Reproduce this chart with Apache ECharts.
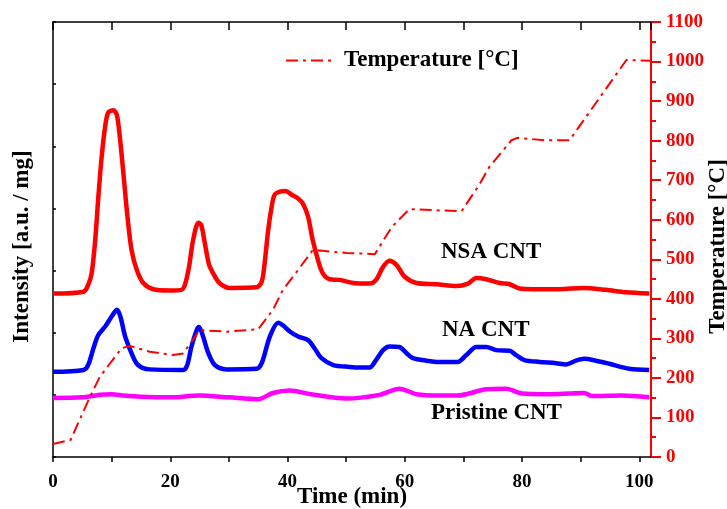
<!DOCTYPE html>
<html>
<head>
<meta charset="utf-8">
<script src="https://cdn.jsdelivr.net/npm/echarts@6/dist/echarts.min.js"></script>
<style>
html,body{margin:0;padding:0;background:#fff;}
#chart{width:727px;height:509px;}
</style>
</head>
<body>
<div id="chart"></div>
<script>
// Time (min) / intensity (a.u./mg, left axis units) pairs
var nsaCNT = [[0,2.63],[5.2,2.66],[6.0,2.77],[6.6,2.96],[7.2,3.49],[7.7,4.14],[8.3,4.83],[8.9,5.32],[9.4,5.54],[10.3,5.58],[10.9,5.50],[11.4,5.15],[12.0,4.57],[12.7,3.87],[13.4,3.33],[14.3,3.01],[15.4,2.80],[17.1,2.70],[19.9,2.68],[21.9,2.69],[22.5,2.77],[23.2,3.06],[23.9,3.49],[24.8,3.77],[25.3,3.73],[25.9,3.44],[26.6,3.10],[27.3,2.96],[28.4,2.80],[30.2,2.72],[34.7,2.73],[35.6,2.82],[36.1,3.12],[36.7,3.65],[37.3,4.03],[37.8,4.22],[38.7,4.27],[39.7,4.28],[40.7,4.22],[41.8,4.16],[42.6,4.08],[43.5,3.87],[44.3,3.49],[45.2,3.17],[46.0,2.96],[47.2,2.86],[48.9,2.85],[51.2,2.80],[54.0,2.79],[55.1,2.85],[56.3,3.06],[57.4,3.16],[58.6,3.09],[60.0,2.90],[62.0,2.80],[65.4,2.78],[68.8,2.75],[70.8,2.79],[72.2,2.88],[73.9,2.86],[76.2,2.80],[77.9,2.78],[79.6,2.71],[81.8,2.70],[86.4,2.70],[90.3,2.72],[94.3,2.69],[97.7,2.65],[101.7,2.63]];
var naCNT = [[0,1.37],[5.2,1.40],[6.0,1.48],[6.9,1.75],[7.7,1.96],[8.9,2.10],[10.0,2.26],[10.9,2.37],[11.5,2.26],[12.3,1.94],[13.4,1.67],[14.5,1.48],[16.5,1.41],[22.2,1.40],[22.9,1.48],[23.6,1.77],[24.5,2.04],[24.9,2.09],[25.6,1.94],[26.5,1.67],[27.6,1.48],[29.6,1.41],[34.7,1.42],[35.6,1.51],[37.0,1.94],[38.4,2.16],[39.2,2.12],[40.4,2.02],[41.8,1.94],[43.5,1.88],[44.6,1.75],[45.8,1.59],[47.8,1.48],[50.6,1.45],[52.3,1.44],[54.0,1.44],[55.1,1.56],[56.3,1.72],[57.4,1.78],[59.1,1.77],[60.3,1.67],[61.4,1.59],[63.7,1.55],[65.9,1.53],[69.0,1.53],[70.5,1.64],[72.2,1.77],[73.9,1.77],[75.6,1.72],[77.9,1.71],[79.0,1.64],[80.4,1.56],[83.0,1.53],[85.8,1.51],[87.5,1.49],[89.2,1.55],[90.6,1.58],[92.6,1.55],[94.9,1.50],[98.3,1.42],[101.7,1.40]];
var pristineCNT = [[0,0.95],[5,0.96],[8,1.00],[10,1.01],[12,0.99],[15,0.97],[20,0.96],[25,0.99],[30,0.96],[35,0.93],[37.5,1.03],[40.4,1.07],[44,1.01],[50,0.94],[55.7,1.00],[59.1,1.10],[62,1.01],[66,0.99],[69,0.99],[73.9,1.09],[77.3,1.10],[80,1.02],[84,1.01],[88,1.02],[90.6,1.03],[92,0.98],[97,0.99],[101.7,0.96]];
// Time (min) / temperature (°C)
var temperature = [[0,33],[3,43],[6.3,152],[8,203],[11.7,275],[13.1,281],[16.5,266],[20.5,258],[22.2,262],[25,321],[29.6,317],[35,323],[37.5,372],[39.2,422],[41.8,473],[44.3,523],[45.5,522],[50,516],[54.9,513],[57.8,582],[60.8,627],[65,624],[69.7,622],[72.7,688],[74.4,733],[78.2,801],[79.2,807],[84,801],[88.1,801],[97.8,1004],[102,1002]];
var seriesNames = ['NSA CNT','NA CNT','Pristine CNT','Temperature [°C]'];

var FONT = 'Liberation Serif';
var chart = echarts.init(document.getElementById('chart'));
var option = {
  backgroundColor: '#fff',
  animation: false,
  textStyle: {fontFamily: FONT},
  grid: {left: 53, right: 76, top: 22, bottom: 52, containLabel: false, outerBoundsMode: 'none'},
  legend: {
    data: [seriesNames[3]],
    left: 280, top: 44,
    itemWidth: 48, itemHeight: 14,
    itemStyle: {opacity: 0},
    textStyle: {fontFamily: FONT, fontWeight: 'bold', fontSize: 23, color: '#000', padding: [0,0,0,5]}
  },
  xAxis: [{
    type: 'value', min: 0, max: 102, interval: 10, position: 'bottom',
    name: 'Time (min)', nameLocation: 'middle', nameGap: 29, nameMoveOverlap: false,
    nameTextStyle: {fontFamily: FONT, fontWeight: 'bold', fontSize: 23, color: '#000'},
    axisLine: {onZero: false, lineStyle: {color: '#000', width: 1.5}},
    axisTick: {inside: false, length: 5, lineStyle: {color: '#000', width: 1.5}},
    axisLabel: {margin: 16, fontFamily: FONT, fontWeight: 'bold', fontSize: 19, color: '#000',
      showMaxLabel: false,
      formatter: function (v) { return v % 20 === 0 ? String(v) : ''; }},
    splitLine: {show: false}
  }, {
    type: 'value', min: 0, max: 102, interval: 10, position: 'top',
    axisLine: {onZero: false, lineStyle: {color: '#000', width: 1.5}},
    axisTick: {inside: true, length: 8, lineStyle: {color: '#000', width: 1.5}},
    axisLabel: {show: false}, splitLine: {show: false}
  }],
  yAxis: [{
    type: 'value', min: 0, max: 7, interval: 1, position: 'left',
    name: 'Intensity [a.u. / mg]', nameLocation: 'middle', nameGap: 19, nameMoveOverlap: false,
    nameTextStyle: {fontFamily: FONT, fontWeight: 'bold', fontSize: 23, color: '#000', padding: [0, 14, 0, 0]},
    axisLine: {show: true, onZero: false, lineStyle: {color: '#000', width: 1.5}},
    axisTick: {show: true, inside: true, length: 3, lineStyle: {color: '#000', width: 1.5}},
    axisLabel: {show: false}, splitLine: {show: false}
  }, {
    type: 'value', min: 0, max: 1100, interval: 100, position: 'right',
    name: 'Temperature [°C]', nameLocation: 'middle', nameGap: 56, nameRotate: 90, nameMoveOverlap: false,
    nameTextStyle: {fontFamily: FONT, fontWeight: 'bold', fontSize: 23, color: '#000', padding: [0, 14, 0, 0]},
    axisLine: {show: true, onZero: false, lineStyle: {color: '#ff0000', width: 2}},
    axisTick: {show: true, inside: false, length: 10, lineStyle: {color: '#ff0000', width: 2}},
    minorTick: {show: true, splitNumber: 2, length: 5, lineStyle: {color: '#ff0000', width: 2}},
    axisLabel: {margin: 15, fontFamily: FONT, fontWeight: 'bold', fontSize: 19, color: '#ff0000',
      formatter: function (v) { return String(v); }},
    splitLine: {show: false}
  }],
  series: [{
    name: seriesNames[0], type: 'line', data: nsaCNT, xAxisIndex: 0, yAxisIndex: 0,
    showSymbol: false, symbol: 'none', smooth: 0.3,
    lineStyle: {color: '#ff0000', width: 4.5}, itemStyle: {color: '#ff0000'}
  }, {
    name: seriesNames[1], type: 'line', data: naCNT, xAxisIndex: 0, yAxisIndex: 0,
    showSymbol: false, symbol: 'none', smooth: 0.3,
    lineStyle: {color: '#0000ff', width: 4.5}, itemStyle: {color: '#0000ff'}
  }, {
    name: seriesNames[2], type: 'line', data: pristineCNT, xAxisIndex: 0, yAxisIndex: 0,
    showSymbol: false, symbol: 'none', smooth: 0.3,
    lineStyle: {color: '#ff00ff', width: 4.5}, itemStyle: {color: '#ff00ff'}
  }, {
    name: seriesNames[3], type: 'line', data: temperature, xAxisIndex: 0, yAxisIndex: 1,
    showSymbol: false, symbol: 'none',
    lineStyle: {color: '#ff0000', width: 2, type: [12, 5, 3, 5]}, itemStyle: {color: '#ff0000'}
  }],
  graphic: [
    {type: 'text', left: 441, top: 241, style: {text: 'NSA CNT', font: 'bold 23px "Liberation Serif"', fill: '#000'}},
    {type: 'text', left: 442, top: 319, style: {text: 'NA CNT', font: 'bold 23px "Liberation Serif"', fill: '#000'}},
    {type: 'text', left: 431, top: 402, style: {text: 'Pristine CNT', font: 'bold 23px "Liberation Serif"', fill: '#000'}}
  ]
};
chart.setOption(option);
</script>
</body>
</html>
